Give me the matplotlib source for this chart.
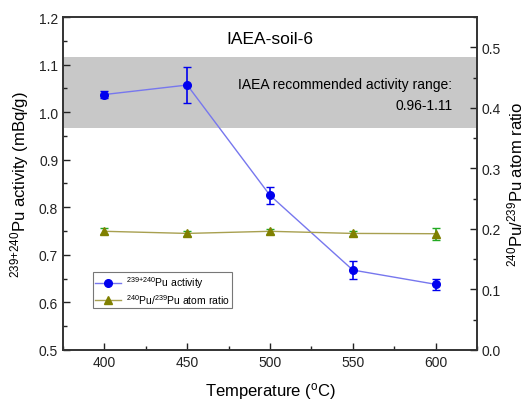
import matplotlib
matplotlib.use("Agg")
import matplotlib.pyplot as plt
from matplotlib.ticker import MultipleLocator

plt.rcParams['font.family'] = ['Liberation Sans', 'DejaVu Sans']
plt.rcParams['mathtext.fontset'] = 'custom'
plt.rcParams['mathtext.rm'] = 'Liberation Sans'
plt.rcParams['mathtext.it'] = 'Liberation Sans'

temperature = [400, 450, 500, 550, 600]
activity = [1.037, 1.057, 0.825, 0.668, 0.638]
activity_err = [0.007, 0.038, 0.018, 0.019, 0.011]
ratio = [0.196, 0.1925, 0.196, 0.1925, 0.192]
ratio_err = [0.005, 0.004, 0.004, 0.004, 0.010]
band_low, band_high = 0.967, 1.116

fig = plt.figure(figsize=(5.25, 4.02), dpi=100)
ax = fig.add_axes([0.12, 0.127, 0.7886, 0.8282])
ax2 = ax.twinx()

ax.axhspan(band_low, band_high, color='#c8c8c8', zorder=0, lw=0)

ax.errorbar(temperature, activity, yerr=activity_err, color='#0000ee', ecolor='#0000ee',
            marker='o', ms=5.5, lw=0, elinewidth=1.2, capsize=3, zorder=3)
ax.plot(temperature, activity, color='#7777ee', lw=1, zorder=2)
ax2.errorbar(temperature, ratio, yerr=ratio_err, color='#808000', ecolor='#22aa22',
             marker='^', ms=5.5, lw=0, elinewidth=1.2, capsize=3, zorder=3)
ax2.plot(temperature, ratio, color='#a8a050', lw=1, zorder=2)

ax.set_xlim(375, 625)
ax.set_ylim(0.5, 1.2)
ax2.set_ylim(0.0, 0.55)
ax.set_xticks(temperature)
ax.xaxis.set_minor_locator(MultipleLocator(25))
ax.yaxis.set_major_locator(MultipleLocator(0.1))
ax.yaxis.set_minor_locator(MultipleLocator(0.05))
ax2.yaxis.set_major_locator(MultipleLocator(0.1))
ax2.yaxis.set_minor_locator(MultipleLocator(0.05))
ax.yaxis.set_major_formatter(plt.FormatStrFormatter('%.1f'))
ax2.yaxis.set_major_formatter(plt.FormatStrFormatter('%.1f'))

for a in (ax, ax2):
    a.tick_params(which='both', direction='in', labelsize=10, colors='#222222')
    a.tick_params(which='major', length=5, width=1)
    a.tick_params(which='minor', length=3, width=1)
    for s in a.spines.values():
        s.set_linewidth(1.2)
        s.set_color('#333333')

ax.set_xlabel('Temperature ($^{\\rm o}$C)', fontsize=12, labelpad=8)
ax.set_ylabel('$^{239{+}240}$Pu activity (mBq/g)', fontsize=12, labelpad=6)
ax2.set_ylabel('$^{240}$Pu/$^{239}$Pu atom ratio', fontsize=12, labelpad=3)

ax.text(0.5, 0.935, 'IAEA-soil-6', transform=ax.transAxes, ha='center', va='center', fontsize=12.5)
ax.text(0.94, 0.80, 'IAEA recommended activity range:', transform=ax.transAxes,
        ha='right', va='center', fontsize=10)
ax.text(0.94, 0.736, '0.96-1.11', transform=ax.transAxes, ha='right', va='center', fontsize=10)

h1, = ax.plot([], [], color='#7777ee', marker='o', ms=5.5, lw=1, mfc='#0000ee', mec='#0000ee')
h2, = ax.plot([], [], color='#a8a050', marker='^', ms=5.5, lw=1, mfc='#808000', mec='#808000')
leg = ax.legend([h1, h2], ['$^{239{+}240}$Pu activity', '$^{240}$Pu/$^{239}$Pu atom ratio'],
                loc='lower left', bbox_to_anchor=(0.072, 0.125), fontsize=7.5, frameon=True,
                fancybox=False, edgecolor='#555555', handlelength=2.5, borderpad=0.25,
                labelspacing=0.15, handletextpad=0.4, borderaxespad=0)
leg.get_frame().set_linewidth(0.8)

fig.savefig('out.png', dpi=100)
